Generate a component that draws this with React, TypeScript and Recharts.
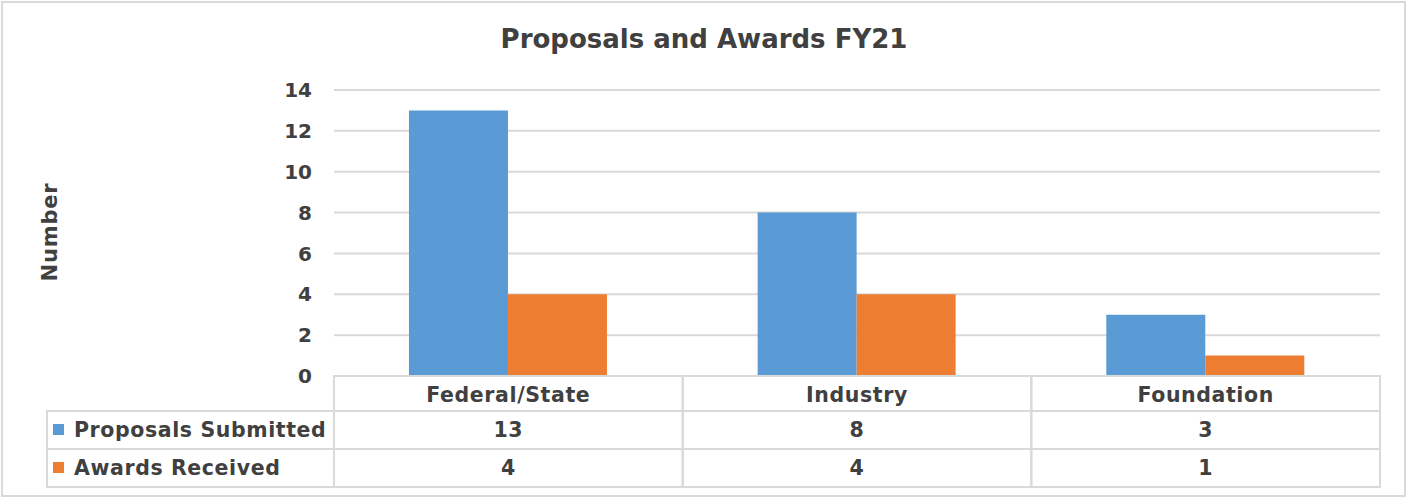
import React from 'react';
import { BarChart, Bar, XAxis, YAxis, CartesianGrid } from 'recharts';

const categories = ['Federal/State', 'Industry', 'Foundation'];
const proposalsSubmitted = [13, 8, 3];
const awardsReceived = [4, 4, 1];
const yTicks = [0, 2, 4, 6, 8, 10, 12, 14];

const seriesNames = ['Proposals Submitted', 'Awards Received'];
const seriesColors = ['#5B9BD5', '#ED7D31'];

const data = categories.map((name, i) => ({
  name,
  proposals: proposalsSubmitted[i],
  awards: awardsReceived[i],
}));

const W = 1408;
const H = 499;
const FONT = '"DejaVu Sans", sans-serif';
const TEXT = '#404040';
const GRID = '#d9d9d9';
const PLOT_LEFT = 334;
const PLOT_RIGHT = 1380;
const HEADER_H = 35;
const ROW_H = 38;
const TABLE_LEFT = 47;

// x axis tick draws one column of the data table, the first one also the legend column
const TableTick = (props: any) => {
  const { x, y, payload, index } = props;
  const band = (PLOT_RIGHT - PLOT_LEFT) / categories.length;
  const x0 = x - band / 2;
  const rows = [proposalsSubmitted, awardsReceived];
  const cellStyle = { fontFamily: FONT, fontWeight: 700, fontSize: 20.5, letterSpacing: 0.6, fill: TEXT };
  return (
    <g>
      <rect x={x0} y={y} width={band} height={HEADER_H} fill="none" stroke={GRID} strokeWidth={2} />
      <text x={x} y={y + HEADER_H / 2 + 1} textAnchor="middle" dominantBaseline="central" style={cellStyle}>
        {payload.value}
      </text>
      {rows.map((vals, r) => (
        <g key={r}>
          <rect x={x0} y={y + HEADER_H + r * ROW_H} width={band} height={ROW_H} fill="none" stroke={GRID} strokeWidth={2} />
          <text x={x} y={y + HEADER_H + r * ROW_H + ROW_H / 2} textAnchor="middle" dominantBaseline="central" style={cellStyle}>
            {vals[index]}
          </text>
        </g>
      ))}
      {index === 0 &&
        seriesNames.map((s, r) => (
          <g key={s}>
            <rect x={TABLE_LEFT} y={y + HEADER_H + r * ROW_H} width={x0 - TABLE_LEFT} height={ROW_H} fill="none" stroke={GRID} strokeWidth={2} />
            <rect x={TABLE_LEFT + 6} y={y + HEADER_H + r * ROW_H + ROW_H / 2 - 6} width={11} height={11} fill={seriesColors[r]} />
            <text x={TABLE_LEFT + 27} y={y + HEADER_H + r * ROW_H + ROW_H / 2} dominantBaseline="central" style={cellStyle}>
              {s}
            </text>
          </g>
        ))}
    </g>
  );
};

const YLabel = () => {
  const cx = 49.5;
  const cy = 232;
  return (
    <text
      x={cx}
      y={cy}
      transform={`rotate(-90, ${cx}, ${cy})`}
      textAnchor="middle"
      dominantBaseline="central"
      style={{ fontFamily: FONT, fontWeight: 700, fontSize: 21, letterSpacing: 0.8, fill: TEXT }}
    >
      Number
    </text>
  );
};

export default function App() {
  return (
    <div style={{ position: 'absolute', left: 0, top: 0, width: W, height: H, background: '#fff' }}>
      <div
        style={{
          position: 'absolute',
          left: 1,
          top: 1,
          width: W - 3,
          height: H - 3,
          border: `2px solid ${GRID}`,
          boxSizing: 'border-box',
        }}
      />
      <div
        style={{
          position: 'absolute',
          left: 0,
          top: 24,
          width: W,
          textAlign: 'center',
          fontFamily: FONT,
          fontWeight: 700,
          fontSize: 26,
          lineHeight: '30px',
          color: TEXT,
        }}
      >
        Proposals and Awards FY21
      </div>
      <div style={{ position: 'absolute', left: 0, top: 0 }}>
        <BarChart
          width={W}
          height={H}
          data={data}
          margin={{ top: 90, right: W - PLOT_RIGHT, bottom: 0, left: 0 }}
          barCategoryGap="21.5%"
          barGap={0}
        >
          <CartesianGrid vertical={false} stroke={GRID} strokeWidth={2} />
          <XAxis
            dataKey="name"
            height={H - 376}
            axisLine={{ stroke: GRID, strokeWidth: 2 }}
            tickLine={false}
            tickSize={0}
            tickMargin={0}
            tick={<TableTick />}
            interval={0}
          />
          <YAxis
            width={PLOT_LEFT}
            domain={[0, 14]}
            ticks={yTicks}
            axisLine={false}
            tickLine={false}
            tickSize={0}
            tickMargin={22}
            tick={{ fontFamily: FONT, fontWeight: 700, fontSize: 20, fill: TEXT }}
            label={<YLabel />}
          />
          <Bar dataKey="proposals" name={seriesNames[0]} fill={seriesColors[0]} isAnimationActive={false} />
          <Bar dataKey="awards" name={seriesNames[1]} fill={seriesColors[1]} isAnimationActive={false} />
        </BarChart>
      </div>
    </div>
  );
}
